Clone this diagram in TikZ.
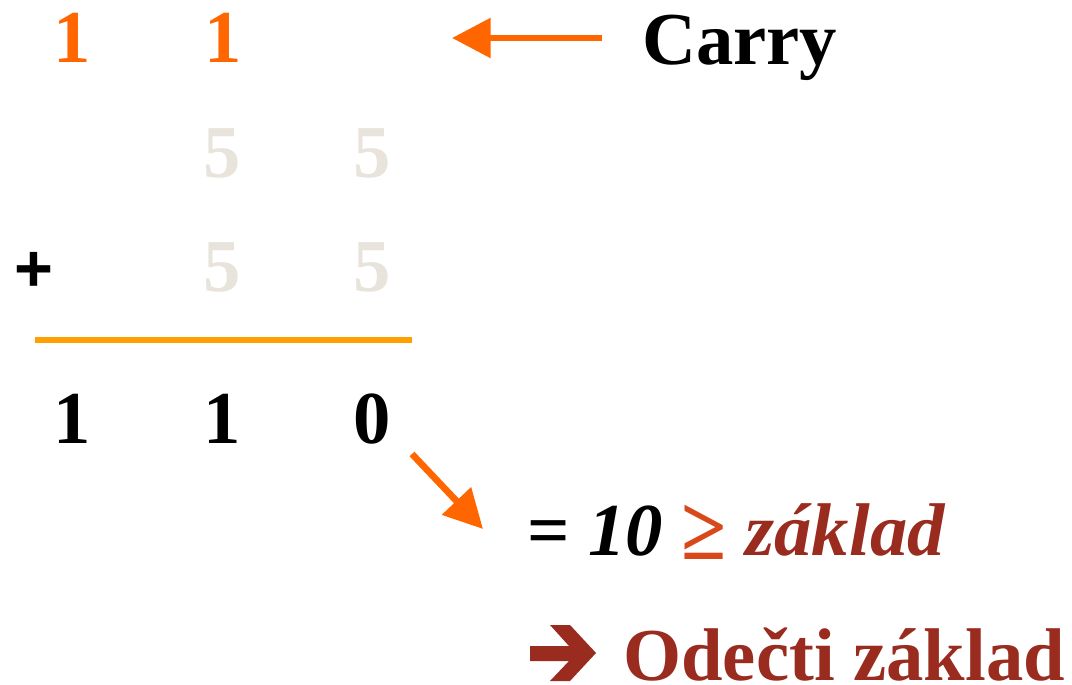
\documentclass[tikz,border=0pt]{standalone}
\usepackage{fontspec}
\setmainfont{Liberation Serif}
\newfontfamily\plusfont{Liberation Sans}
\usetikzlibrary{arrows.meta}
\definecolor{carryorange}{HTML}{FF6600}
\definecolor{faded}{HTML}{E8E4DC}
\definecolor{rule}{HTML}{FFA000}
\definecolor{brick}{HTML}{992B1F}
\definecolor{geq}{HTML}{D8481B}
\tikzset{
  every picture/.style={x=0.75pt, y=-0.75pt, line join=miter},
  digit/.style={anchor=base, inner sep=0pt, font=\fontsize{56}{60}\selectfont\bfseries},
  txt/.style={anchor=base west, inner sep=0pt, font=\fontsize{56}{60}\selectfont\bfseries},
  pointer/.style={carryorange, line width=5pt, -{Triangle[length=29pt, width=29pt]}},
}

\begin{document}
\begin{tikzpicture}
\useasboundingbox (0,0) rectangle (1072,685);
% carries
\node[digit, carryorange] (c1) at (72,63) {1};
\node[digit, carryorange] (c2) at (223,63) {1};
\node[txt] (carry) at (642,65) {Carry};
\coordinate (ctip) at (452,38);
\draw[pointer] (carry.west|-ctip) ++(-40,0) -- (ctip);
% operands
\node[digit, faded] (a1) at (222,177) {5};
\node[digit, faded] (a0) at (372,177) {5};
\node[digit, faded] (b1) at (222,291) {5};
\node[digit, faded] (b0) at (372,291) {5};
\node[inner sep=0pt, font=\fontsize{50}{50}\selectfont\plusfont\bfseries] (plus) at (34,272) {+};
\coordinate (rl) at (35,340);
\coordinate (rr) at (412,340);
\draw[rule, line width=5pt] (rl) -- (rr);
% sum
\node[digit] (s2) at (72,443) {1};
\node[digit] (s1) at (222,443) {1};
\node[digit] (s0) at (372,443) {0};
% explanation
\node[txt] (eq) at (527,555) {=~\textit{10} {\color{geq}\raisebox{-3pt}{\scalebox{1.1}[1.2]{≥}}} \textit{\color{brick}základ}};
\coordinate (dstart) at (412,454);
\coordinate (dtip) at (483,529);
\draw[pointer] (dstart) -- (dtip);
\fill[brick] (530,646) -- (569,646) -- (550,625) -- (570,625) -- (596,653)
  -- (570,681) -- (550,681) -- (569,661) -- (530,661) -- cycle;
\node[txt, brick] (sub) at (623,680) {Odečti základ};
\end{tikzpicture}
\end{document}
